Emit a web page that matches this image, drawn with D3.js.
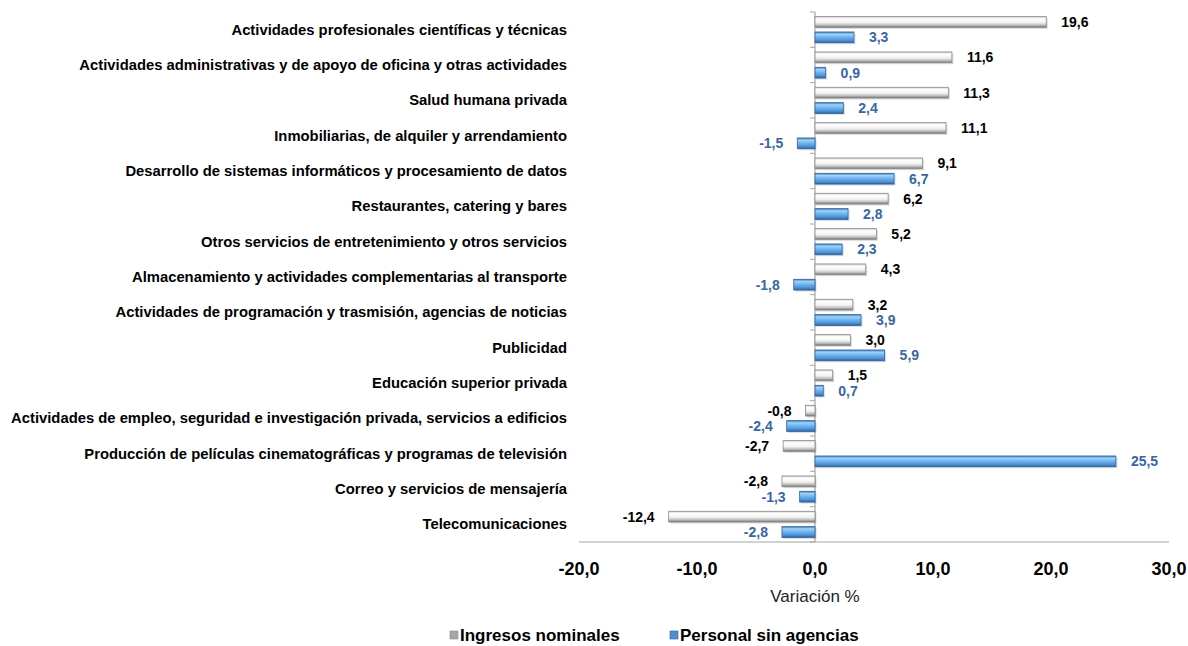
<!DOCTYPE html>
<html>
<head>
<meta charset="utf-8">
<script src="https://cdn.jsdelivr.net/npm/d3@7"></script>
<style>
  body { margin: 0; background: #fff; }
  svg { display: block; font-family: 'Liberation Sans', Arial, sans-serif; }
  .narrow { font-family: 'Liberation Sans Narrow', 'Arial Narrow', 'Liberation Sans', Arial, sans-serif; font-weight: bold; }
</style>
</head>
<body>
<svg id="chart" width="1188" height="646"></svg>
<script>
// data
const categories = [
  'Actividades profesionales científicas y técnicas',
  'Actividades administrativas y de apoyo de oficina y otras actividades',
  'Salud humana privada',
  'Inmobiliarias, de alquiler y arrendamiento',
  'Desarrollo de sistemas informáticos y procesamiento de datos',
  'Restaurantes, catering y bares',
  'Otros servicios de entretenimiento y otros servicios',
  'Almacenamiento y actividades complementarias al transporte',
  'Actividades de programación y trasmisión, agencias de noticias',
  'Publicidad',
  'Educación superior privada',
  'Actividades de empleo, seguridad e investigación privada, servicios a edificios',
  'Producción de películas cinematográficas y programas de televisión',
  'Correo y servicios de mensajería',
  'Telecomunicaciones'
];
const ingresos = [19.6, 11.6, 11.3, 11.1, 9.1, 6.2, 5.2, 4.3, 3.2, 3.0, 1.5, -0.8, -2.7, -2.8, -12.4];
const personal = [3.3, 0.9, 2.4, -1.5, 6.7, 2.8, 2.3, -1.8, 3.9, 5.9, 0.7, -2.4, 25.5, -1.3, -2.8];
const seriesNames = ['Ingresos nominales', 'Personal sin agencias'];
const xTicks = [-20, -10, 0, 10, 20, 30];

const svg = d3.select('#chart');
const fmt = v => v.toFixed(1).replace('.', ',');

const x = d3.scaleLinear().domain([-20, 30]).range([579, 1169]);
const y = d3.scaleBand().domain(categories).range([12, 542]);
const inner = d3.scaleBand().domain([0, 1]).range([0, y.bandwidth()]).paddingInner(0.3).paddingOuter(0.3);

// gradients for the bevelled bars
const defs = svg.append('defs');
function grad(id, stops) {
  const g = defs.append('linearGradient').attr('id', id)
    .attr('x1', 0).attr('y1', 0).attr('x2', 0).attr('y2', 1);
  stops.forEach(s => g.append('stop').attr('offset', s[0]).attr('stop-color', s[1]));
}
grad('gGray', [[0, '#c8c8c8'], [0.2, '#ffffff'], [0.55, '#f2f2f2'], [0.8, '#bdbdbd'], [1, '#6f6f6f']]);
grad('gBlue', [[0, '#3f79bd'], [0.2, '#9dd3f8'], [0.5, '#6cb2ec'], [0.8, '#4b8fd5'], [1, '#2b5e9c']]);
const fills = ['url(#gGray)', 'url(#gBlue)'];
const strokes = ['#8c8c8c', '#2f64a2'];
const labelColors = ['#000000', '#3a66a0'];
const legendFills = ['#a6a6a6', '#4f8fd0'];

// y axis line + ticks at band edges
svg.append('line').attr('x1', x(0)).attr('x2', x(0)).attr('y1', 12).attr('y2', 542)
  .attr('stroke', '#a6a6a6').attr('stroke-width', 1.2);
svg.append('g').selectAll('line').data(d3.range(categories.length + 1))
  .enter().append('line')
  .attr('x1', x(0) - 5).attr('x2', x(0))
  .attr('y1', i => 12 + i * y.step()).attr('y2', i => 12 + i * y.step())
  .attr('stroke', '#a6a6a6');

// x axis
svg.append('line').attr('x1', x(-20)).attr('x2', x(30)).attr('y1', 542).attr('y2', 542)
  .attr('stroke', '#a6a6a6').attr('stroke-width', 1.2);
svg.append('g').selectAll('text').data(xTicks).enter().append('text')
  .attr('x', d => x(d)).attr('y', 575)
  .attr('text-anchor', 'middle').attr('font-weight', 'bold').attr('font-size', 18)
  .text(fmt);
svg.append('text').attr('x', x(0)).attr('y', 602).attr('text-anchor', 'middle')
  .attr('font-size', 17).attr('fill', '#222').text('Variación %');

// category labels
svg.append('g').selectAll('text').data(categories).enter().append('text')
  .attr('class', 'narrow').attr('font-size', 14.8)
  .attr('x', 567).attr('y', d => y(d) + y.bandwidth() / 2 + 5)
  .attr('text-anchor', 'end').text(d => d);

// bars
const rows = categories.map((c, i) => ({ c, vals: [ingresos[i], personal[i]] }));
const series = [0, 1];
series.forEach(s => {
  const g = svg.append('g');
  const data = rows.map(r => ({ c: r.c, v: r.vals[s] }));
  // soft shadow
  g.selectAll('rect.sh').data(data).enter().append('rect')
    .attr('x', d => Math.min(x(0), x(d.v)) + 1.5)
    .attr('y', d => y(d.c) + inner(s) + 1.5)
    .attr('width', d => Math.abs(x(d.v) - x(0)))
    .attr('height', inner.bandwidth())
    .attr('fill', '#000').attr('opacity', 0.15);
  g.selectAll('rect.bar').data(data).enter().append('rect')
    .attr('x', d => Math.min(x(0), x(d.v)))
    .attr('y', d => y(d.c) + inner(s))
    .attr('width', d => Math.abs(x(d.v) - x(0)))
    .attr('height', inner.bandwidth())
    .attr('fill', fills[s]).attr('stroke', strokes[s]).attr('stroke-width', 0.8);
  g.selectAll('text').data(data).enter().append('text')
    .attr('x', d => d.v >= 0 ? x(d.v) + 15 : x(d.v) - 14)
    .attr('y', d => y(d.c) + inner(s) + inner.bandwidth() / 2 + 5)
    .attr('text-anchor', d => d.v >= 0 ? 'start' : 'end')
    .attr('font-weight', 'bold').attr('font-size', 14)
    .attr('fill', labelColors[s])
    .text(d => fmt(d.v));
});

// legend
const legendX = [450, 670];
const lg = svg.append('g').selectAll('g').data(series).enter().append('g')
  .attr('transform', s => `translate(${legendX[s]},635)`);
lg.append('rect').attr('x', 0).attr('y', -4).attr('width', 8).attr('height', 8)
  .attr('fill', s => legendFills[s]).attr('stroke', s => strokes[s]).attr('stroke-width', 0.6);
lg.append('text').attr('class', 'narrow').attr('font-size', 17)
  .attr('x', 10).attr('y', 6)
  .text(s => seriesNames[s]);
</script>
</body>
</html>
